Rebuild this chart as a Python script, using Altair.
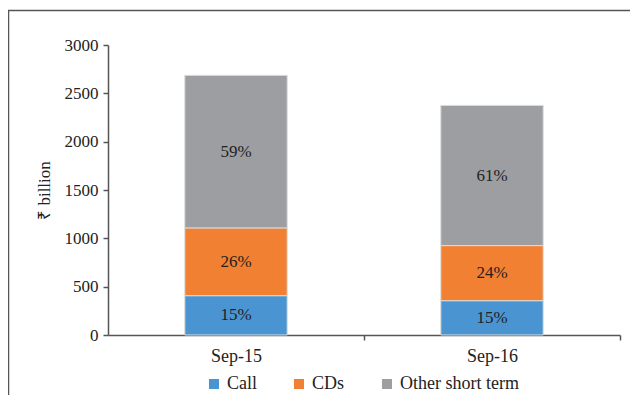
import altair as alt
import pandas as pd

periods = ["Sep-15", "Sep-16"]
segments = ["Call", "CDs", "Other short term"]
call = [407, 355]
cds = [701, 570]
other = [1578, 1450]
colors = ["#4a95d1", "#f28032", "#9d9ea2"]
y_ticks = [0, 500, 1000, 1500, 2000, 2500, 3000]

rows = []
for i, p in enumerate(periods):
    for j, (s, v) in enumerate(zip(segments, [call[i], cds[i], other[i]])):
        rows.append({"period": p, "segment": s, "order": j, "value": v})
df = pd.DataFrame(rows)

FONT = "Liberation Serif"
AX = "#555555"
TXT = "#222222"

base = alt.Chart(df).transform_stack(
    stack="value", groupby=["period"], as_=["v0", "v1"], sort=[alt.SortField("order")]
).transform_joinaggregate(
    total="sum(value)", groupby=["period"]
).transform_calculate(
    mid="(datum.v0 + datum.v1) / 2", pct="datum.value / datum.total"
)

x_enc = alt.X(
    "period:N", sort=periods, title=None,
    scale=alt.Scale(paddingInner=0.6, paddingOuter=0.3),
    axis=alt.Axis(labelAngle=0, labelFont=FONT, labelFontSize=18, labelColor=TXT,
                  labelPadding=7, tickSize=5, tickOffset=128, labelOffset=-128,
                  tickColor=AX, tickWidth=1.5, domainColor=AX, domainWidth=1.5),
)

bars = base.mark_bar(stroke="#dcdcdc", strokeWidth=1).encode(
    x=x_enc,
    y=alt.Y("v0:Q", scale=alt.Scale(domain=[0, 3000], nice=False),
            axis=alt.Axis(values=y_ticks, format="d", title="₹ billion", grid=False,
                          labelFont=FONT, labelFontSize=17, labelColor=TXT,
                          labelPadding=5, tickSize=5, tickColor=AX, tickWidth=1.5,
                          domainColor=AX, domainWidth=1.5,
                          titleFont=FONT, titleFontSize=17, titleFontWeight="normal",
                          titleColor=TXT, titlePadding=11)),
    y2="v1:Q",
    color=alt.Color("segment:N", scale=alt.Scale(domain=segments, range=colors),
                    sort=segments,
                    legend=alt.Legend(orient="none", legendX=97, legendY=330,
                                      direction="horizontal", title=None,
                                      symbolType="square", symbolSize=100, symbolStrokeWidth=0,
                                      labelFont=FONT, labelFontSize=18, labelColor=TXT,
                                      columnPadding=33, labelOffset=4)),
    order=alt.Order("order:Q"),
)

labels = base.mark_text(font=FONT, fontSize=17, color=TXT).encode(
    x=alt.X("period:N", sort=periods),
    y=alt.Y("mid:Q"),
    text=alt.Text("pct:Q", format=".0%"),
)

frame = alt.Chart(pd.DataFrame({"k": [0]})).mark_rect(
    fill="transparent", stroke=AX, strokeWidth=1.5
).encode(
    x=alt.value(-99.5), x2=alt.value(900), y=alt.value(-34.5), y2=alt.value(700)
)

chart = alt.layer(frame, bars, labels).properties(
    width=512, height=290,
    padding={"left": 100, "top": 37, "right": 10, "bottom": 60},
    autosize=alt.AutoSizeParams(type="none"),
    background="white",
).configure_view(stroke=None)

chart.save("out.html", embed_options={"renderer": "svg", "actions": False})
